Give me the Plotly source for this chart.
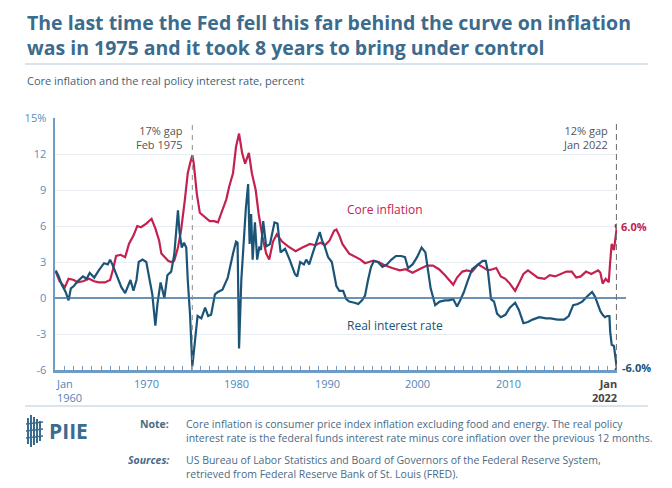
import plotly.graph_objects as go

# ---------------- data ----------------
real_dates = ["1960-01","1960-05","1960-09","1961-02","1961-06","1961-09","1962-01","1962-06","1963-01","1963-06",
"1963-10","1964-04","1964-10","1965-05","1965-10","1966-01","1966-04","1966-07","1966-11","1967-04",
"1967-09","1967-12","1968-04","1968-08","1968-12","1969-03","1969-08","1970-01","1970-05","1970-09",
"1971-01","1971-04","1971-08","1972-01","1972-05","1972-10","1973-02","1973-07","1973-09","1973-12",
"1974-03","1974-06","1974-08","1974-11","1975-02","1975-05","1975-09","1976-02","1976-07","1976-11",
"1977-03","1977-08","1977-12","1978-06","1979-01","1979-08","1979-12","1980-02","1980-04","1980-07",
"1980-10","1981-01","1981-04","1981-06","1981-08","1981-10","1982-01","1982-04","1982-07","1982-09",
"1982-12","1983-04","1983-09","1984-03","1984-07","1984-11","1985-05","1985-11","1986-06","1986-09",
"1987-01","1987-06","1987-09","1988-01","1988-06","1988-12","1989-03","1989-06","1989-09","1990-02",
"1990-07","1990-10","1991-01","1991-05","1991-10","1992-02","1992-06","1993-01","1993-06","1993-11",
"1994-03","1994-07","1994-11","1995-03","1995-08","1996-02","1996-08","1997-02","1997-08","1998-03",
"1998-08","1998-12","1999-06","1999-12","2000-06","2000-11","2001-03","2001-06","2001-12","2002-06",
"2003-01","2003-06","2003-12","2004-05","2004-09","2005-02","2005-07","2006-01","2006-07","2007-03",
"2007-07","2007-10","2008-02","2008-06","2008-10","2009-03","2009-09","2010-03","2010-10","2011-03",
"2011-09","2012-03","2012-09","2013-06","2014-03","2014-09","2015-06","2016-03","2016-09","2017-03",
"2017-09","2018-03","2018-09","2019-04","2019-08","2019-12","2020-03","2020-06","2020-09","2020-12",
"2021-03","2021-04","2021-06","2021-09","2021-11","2022-01"]
real_vals = [2.3,1.8,1.1,0.5,-0.2,0.8,1.0,1.4,1.8,1.6,
2.1,1.7,2.3,2.9,2.8,3.2,2.8,2.3,1.6,0.9,
0.4,0.9,1.5,0.6,1.5,3.0,3.2,3.0,1.7,0.3,
-2.3,-0.4,1.3,0.0,1.9,2.2,3.6,7.3,5.5,4.2,
4.6,4.2,1.5,-1.4,-5.7,-3.9,-1.5,-1.7,-0.8,-1.5,
-1.4,0.3,0.5,0.7,1.7,3.7,4.7,4.6,-4.2,1.5,
4.7,7.5,9.5,4.5,7.0,3.2,6.3,3.2,4.3,4.0,
6.4,4.3,4.5,6.3,6.2,3.8,4.1,3.2,2.0,1.8,
3.0,2.8,3.2,2.8,3.8,5.0,5.5,4.8,4.4,3.4,
3.0,2.0,1.0,0.6,0.6,-0.1,-0.3,-0.4,-0.5,-0.2,
0.2,1.5,2.6,3.1,3.0,2.6,2.8,3.2,3.5,3.5,
3.4,2.5,2.8,3.4,4.2,3.8,2.3,0.8,-0.6,-0.3,
-0.2,-0.2,-0.1,-0.7,-0.2,0.5,1.4,2.4,2.7,3.1,
3.1,2.2,-0.1,-0.3,-1.3,-1.6,-1.4,-0.8,-0.4,-1.0,
-2.1,-2.0,-1.8,-1.6,-1.7,-1.7,-1.8,-1.8,-1.5,-0.6,
-0.5,-0.3,0.1,0.5,0.1,-0.6,-1.1,-1.4,-1.6,-1.5,
-1.5,-2.8,-3.9,-4.0,-4.8,-6.0]

core_dates = ["1960-01","1960-06","1961-01","1961-06","1962-01","1962-06","1963-01","1963-09","1964-04","1964-10",
"1965-06","1966-01","1966-05","1966-09","1967-03","1967-09","1968-02","1968-08","1969-01","1969-06",
"1970-01","1970-08","1971-01","1971-06","1971-09","1972-01","1972-06","1972-10","1973-02","1973-07",
"1973-11","1974-04","1974-08","1974-11","1975-02","1975-04","1975-08","1975-12","1976-06","1977-01",
"1977-07","1977-12","1978-04","1978-11","1979-03","1979-08","1979-12","1980-04","1980-08","1980-12",
"1981-05","1981-09","1982-02","1982-06","1982-11","1983-04","1983-08","1984-01","1984-06","1985-01",
"1985-09","1986-07","1987-04","1988-02","1988-09","1989-04","1989-10","1990-04","1990-10","1991-01",
"1991-05","1991-09","1992-06","1993-03","1993-09","1994-03","1995-01","1995-09","1996-06","1997-03",
"1998-01","1998-09","1999-06","2000-03","2001-01","2001-09","2002-05","2003-01","2003-09","2003-12",
"2004-05","2004-12","2005-06","2006-01","2006-09","2007-03","2007-10","2008-04","2008-09","2009-03",
"2009-09","2010-03","2010-10","2011-03","2011-09","2012-03","2012-09","2013-04","2014-01","2014-08",
"2015-03","2015-11","2016-06","2017-01","2017-07","2018-01","2018-08","2019-03","2019-12","2020-03",
"2020-06","2020-10","2021-02","2021-04","2021-06","2021-09","2021-11","2021-12","2022-01"]
core_vals = [2.2,1.4,0.9,1.6,1.5,1.3,1.4,1.6,1.4,1.3,
1.3,1.5,2.4,3.5,3.6,3.4,4.5,5.2,6.0,5.9,
6.2,6.6,5.8,4.8,3.7,3.4,3.1,3.0,3.1,4.2,
5.6,8.1,10.4,11.2,11.9,11.2,8.7,7.1,6.8,6.4,
6.4,6.3,7.0,8.2,9.3,10.4,12.6,13.7,12.1,11.2,
12.1,10.4,9.0,7.0,5.1,3.7,3.2,4.7,5.3,4.7,
4.3,3.9,4.2,4.5,4.4,4.6,4.4,4.8,5.6,5.7,
5.2,4.5,3.7,3.4,3.2,2.9,3.1,3.0,2.7,2.5,
2.3,2.4,2.1,2.4,2.7,2.7,2.4,1.9,1.3,1.1,
1.7,2.2,2.3,2.2,2.8,2.6,2.3,2.4,2.5,1.8,
1.6,1.2,0.6,1.2,2.0,2.3,2.0,1.7,1.6,1.9,
1.8,2.0,2.2,2.2,1.7,1.8,2.2,2.0,2.3,2.1,
1.2,1.6,1.3,3.0,4.5,4.0,4.9,5.5,6.0]

y_ticks = [-6, -3, 0, 3, 6, 9, 12, 15]
y_tick_text = ["-6", "-3", "0", "3", "6", "9", "12", "15%"]
decade_labels = ["1970", "1980", "1990", "2000", "2010"]
gap_1975 = ("1975-02", "17% gap", "Feb 1975")
gap_2022 = ("2022-01", "12% gap", "Jan 2022")

# ---------------- styling ----------------
W, H = 672, 488
L, R, T, B = 55, 617, 118, 370
RED = "#c3214f"
BLUE = "#1b5477"
AXIS = "#6f9cc6"
TITLE = "#3b6b8d"
FONT = "Open Sans"

def px(x):
    return (x - L) / (R - L)

def py(y):
    return (B - y) / (B - T)

fig = go.Figure()
fig.add_trace(go.Scatter(x=core_dates, y=core_vals, mode="lines",
                         line=dict(color=RED, width=2.2), hoverinfo="skip"))
fig.add_trace(go.Scatter(x=real_dates, y=real_vals, mode="lines",
                         line=dict(color=BLUE, width=2.2), hoverinfo="skip"))
fig.add_trace(go.Scatter(x=[core_dates[-1], real_dates[-1]], y=[core_vals[-1], real_vals[-1]],
                         mode="markers", marker=dict(color=[RED, BLUE], size=5), hoverinfo="skip"))

shapes = []
# zero line
shapes.append(dict(type="line", xref="paper", yref="y", x0=0, x1=px(626), y0=0, y1=0,
                   line=dict(color="#3f709c", width=1.5), layer="above"))
# gap lines
shapes.append(dict(type="line", xref="x", yref="paper", x0=gap_1975[0], x1=gap_1975[0], y0=0, y1=py(123),
                   line=dict(color="#8c8c8c", width=1, dash="5px,5px")))
shapes.append(dict(type="line", xref="x", yref="paper", x0=gap_2022[0], x1=gap_2022[0], y0=0, y1=py(123),
                   line=dict(color="#777777", width=2.2, dash="6px,4px")))
# separators
shapes.append(dict(type="line", xref="paper", yref="paper", x0=px(25), x1=px(648), y0=py(64), y1=py(64),
                   line=dict(color="#cfdbe6", width=1.5)))
shapes.append(dict(type="line", xref="paper", yref="paper", x0=px(25), x1=px(648), y0=py(406), y1=py(406),
                   line=dict(color="#cfdbe6", width=1.5)))
# PIIE logo icon
for xx, ya, yb in [(28, 418, 444), (31, 415, 447), (34, 417, 445), (37, 419, 443), (40, 421, 441)]:
    shapes.append(dict(type="line", xref="paper", yref="paper", x0=px(xx), x1=px(xx), y0=py(ya), y1=py(yb),
                       line=dict(color=TITLE, width=2)))
for yy in [424, 431, 438]:
    shapes.append(dict(type="line", xref="paper", yref="paper", x0=px(26), x1=px(43), y0=py(yy), y1=py(yy - 2),
                       line=dict(color=TITLE, width=1.5)))

ann = []
def text(x, y, s, size, color, xanchor="left", yanchor="middle", align="left", weight="normal", style="normal"):
    ann.append(dict(xref="paper", yref="paper", x=px(x), y=py(y), text=s, showarrow=False,
                    xanchor=xanchor, yanchor=yanchor, align=align,
                    font=dict(family=FONT, size=size, color=color, weight=weight, style=style)))

text(25, 35, "The last time the Fed fell this far behind the curve on inflation<br>"
     "was in 1975 and it took 8 years to bring under control", 19.5, TITLE, weight="bold")
text(25, 80, "Core inflation and the real policy interest rate, percent", 11, "#3f5f78")

# x tick labels
XL = "#4f86b8"
ann.append(dict(xref="x", yref="paper", x=real_dates[0], y=py(374), text="Jan<br>1960", showarrow=False,
                xanchor="left", yanchor="top", align="left", xshift=-2,
                font=dict(family=FONT, size=11, color=XL)))
for d in decade_labels:
    ann.append(dict(xref="x", yref="paper", x=d + "-01", y=py(374), text=d, showarrow=False,
                    xanchor="center", yanchor="top", font=dict(family=FONT, size=11, color=XL)))
ann.append(dict(xref="x", yref="paper", x=real_dates[-1], y=py(374), text="Jan<br>2022", showarrow=False,
                xanchor="right", yanchor="top", align="right", xshift=2,
                font=dict(family=FONT, size=11, color="#444444", weight="bold")))

# gap annotations
for g in (gap_1975, gap_2022):
    ann.append(dict(xref="x", yref="paper", x=g[0], y=py(121), text=g[1] + "<br>" + g[2], showarrow=False,
                    xanchor="right", yanchor="top", align="right", xshift=-7,
                    font=dict(family=FONT, size=11, color="#555555")))

# series labels
ann.append(dict(xref="x", yref="y", x="1991-12", y=7.35, text="Core inflation", showarrow=False,
                xanchor="left", yanchor="middle", font=dict(family=FONT, size=12, color=RED)))
ann.append(dict(xref="x", yref="y", x="1991-12", y=-2.3, text="Real interest rate", showarrow=False,
                xanchor="left", yanchor="middle", font=dict(family=FONT, size=12, color=BLUE)))
ann.append(dict(xref="x", yref="y", x=core_dates[-1], y=core_vals[-1], text=f"{core_vals[-1]:.1f}%", showarrow=False,
                xanchor="left", yanchor="middle", xshift=2,
                font=dict(family=FONT, size=11, color=RED, weight="bold")))
ann.append(dict(xref="x", yref="y", x=real_dates[-1], y=real_vals[-1], text=f"{real_vals[-1]:.1f}%", showarrow=False,
                xanchor="left", yanchor="middle", xshift=3, yshift=3,
                font=dict(family=FONT, size=11, color=BLUE, weight="bold")))

# footer
text(47, 431, "PIIE", 21, TITLE, weight="bold")
FT = "#4a6a86"
text(171, 424, "Note:", 10.5, FT, xanchor="right", weight="bold")
text(184, 431, "Core inflation is consumer price index inflation excluding food and energy. The real policy<br>"
     "interest rate is the federal funds interest rate minus core inflation over the previous 12 months.",
     10.5, FT)
text(171, 460, "Sources:", 10.5, FT, xanchor="right", weight="bold", style="italic")
text(184, 467, "US Bureau of Labor Statistics and Board of Governors of the Federal Reserve System,<br>"
     "retrieved from Federal Reserve Bank of St. Louis (FRED).", 10.5, FT)

fig.update_layout(
    width=W, height=H, margin=dict(l=L, r=W - R, t=T, b=H - B),
    paper_bgcolor="white", plot_bgcolor="white", showlegend=False,
    font=dict(family=FONT), hovermode=False,
    shapes=shapes, annotations=ann,
    xaxis=dict(type="date", range=["1959-12-01", "2022-01-01"], showgrid=False, zeroline=False,
               showline=True, linecolor=AXIS, linewidth=2.5, ticks="inside", ticklen=4, tickwidth=1,
               tickcolor=AXIS, dtick="M12", tick0="1960-01-01", showticklabels=False),
    yaxis=dict(range=[-6, 15], tickvals=y_ticks, ticktext=y_tick_text, showgrid=True, gridcolor="#e7edf3",
               gridwidth=1, zeroline=False, showline=True, linecolor=AXIS, linewidth=2.5, ticks="",
               tickfont=dict(family=FONT, size=11, color="#5a8dbd"), ticklabelstandoff=4),
)

fig.write_html("out.html", config={"displayModeBar": False, "staticPlot": True},
               post_script="document.body.style.margin='0px';document.body.style.padding='0px';")
